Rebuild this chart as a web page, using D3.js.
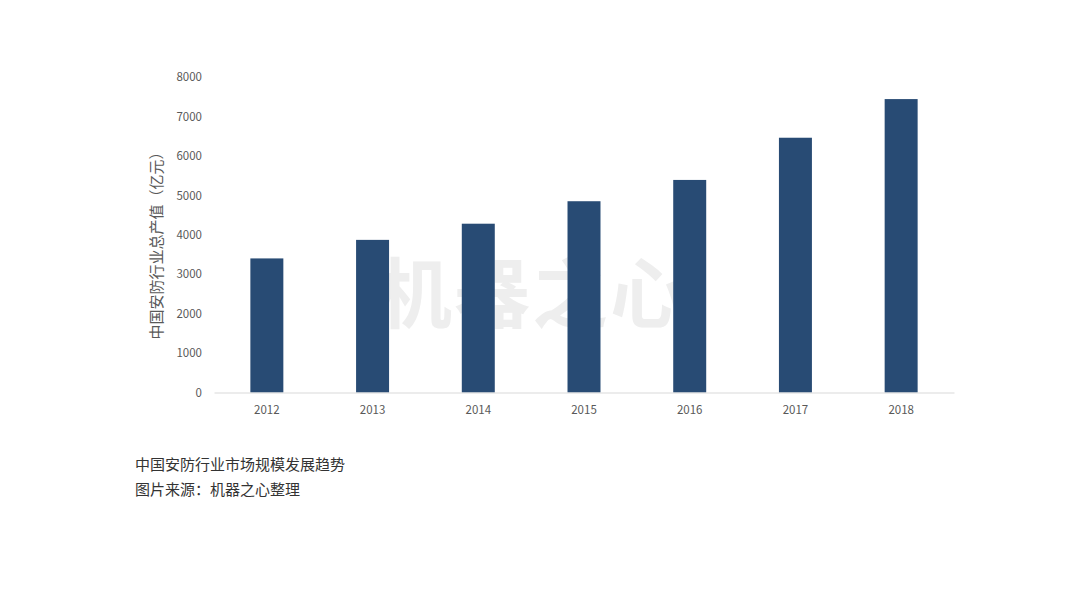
<!DOCTYPE html>
<html><head><meta charset="utf-8">
<script src="https://cdn.jsdelivr.net/npm/d3@7"></script>
<style>body{margin:0;background:#fff;}svg{display:block;}</style>
</head><body>
<svg id="c" width="1080" height="608"></svg>
<script>
const years = ["2012","2013","2014","2015","2016","2017","2018"];
const values = [3400, 3870, 4280, 4850, 5390, 6460, 7440];
const yTicks = [0,1000,2000,3000,4000,5000,6000,7000,8000];
const yTitle = "中国安防行业总产值（亿元）";
const captions = ["中国安防行业市场规模发展趋势", "图片来源：机器之心整理"];
const watermark = "机器之心";

const svg = d3.select("#c");
const font = "'Noto Sans CJK SC','Noto Sans',sans-serif";
svg.append("rect").attr("width",1080).attr("height",608).attr("fill","#fff");

svg.append("text").attr("x",532).attr("y",322).attr("text-anchor","middle")
  .attr("font-family",font).attr("font-weight","bold").attr("font-size",76)
  .attr("fill","#eeeeee").attr("letter-spacing",2).text(watermark);

const x = d3.scaleBand().domain(years).range([214,954]).paddingInner(0.688).paddingOuter(0.344);
const y = d3.scaleLinear().domain([0,8000]).range([392.5,77]);

svg.selectAll("rect.bar").data(values).join("rect").attr("class","bar")
  .attr("x",(d,i)=>x(years[i])).attr("width",x.bandwidth())
  .attr("y",d=>y(d)).attr("height",d=>y(0)-y(d)).attr("fill","#284b74");

const ya = svg.append("g").attr("transform","translate(202,0)")
  .call(d3.axisLeft(y).tickValues(yTicks).tickSize(0).tickPadding(0).tickFormat(d3.format("d")));
ya.select(".domain").remove();
ya.selectAll("text").attr("font-family",font).attr("font-size",11.5).attr("fill","#595959");

const xa = svg.append("g").attr("transform","translate(0,392.5)")
  .call(d3.axisBottom(x).tickSize(0).tickPadding(13.5));
xa.select(".domain").attr("stroke","#d9d9d9").attr("stroke-width",1.2);
xa.selectAll("text").attr("font-family",font).attr("font-size",11.5).attr("fill","#595959");

svg.append("text").attr("transform","translate(162,242) rotate(-90)").attr("text-anchor","middle")
  .attr("font-family",font).attr("font-size",15).attr("fill","#595959").text(yTitle);

svg.selectAll("text.cap").data(captions).join("text").attr("class","cap")
  .attr("x",135).attr("y",(d,i)=>470+i*25).attr("font-family",font).attr("font-size",15)
  .attr("fill","#333").text(d=>d);
</script>
</body></html>
